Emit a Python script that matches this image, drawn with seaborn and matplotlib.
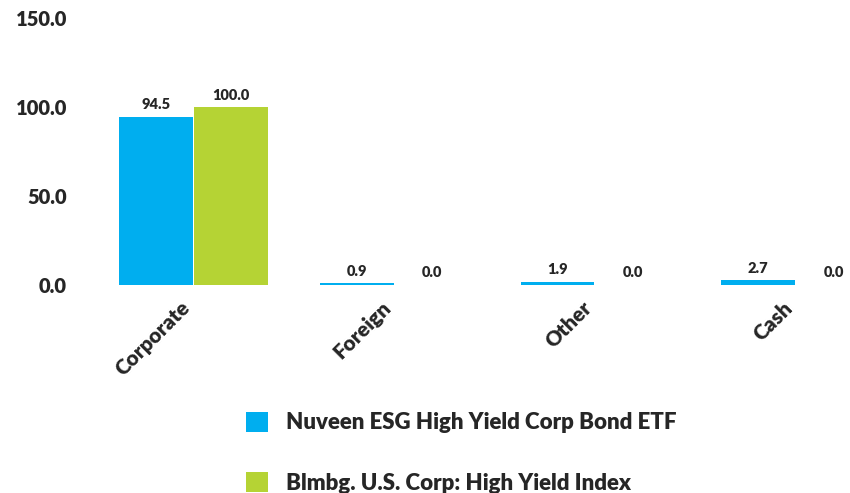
import matplotlib
matplotlib.use("Agg")
import matplotlib.pyplot as plt
import matplotlib.transforms as mtransforms
import seaborn as sns
import pandas as pd
from matplotlib.ticker import FormatStrFormatter

# values
categories = ["Corporate", "Foreign", "Other", "Cash"]
fund_values = [94.5, 0.9, 1.9, 2.7]
index_values = [100.0, 0.0, 0.0, 0.0]
series_names = ["Nuveen ESG High Yield Corp Bond ETF",
                "Blmbg. U.S. Corp: High Yield Index"]
colors = ["#00AEEF", "#B5D334"]
y_ticks = [0, 50, 100, 150]

df = pd.DataFrame({
    "category": categories * 2,
    "value": fund_values + index_values,
    "series": [series_names[0]] * 4 + [series_names[1]] * 4,
})

sns.set_style("white")
plt.rcParams["font.family"] = ["Lato", "DejaVu Sans"]
W = "heavy"

fig = plt.figure(figsize=(8.5, 4.93), dpi=100)
ax = fig.add_axes([0.105, 0.422, 0.895, 0.541])

sns.barplot(data=df, x="category", y="value", hue="series",
            palette=colors, saturation=1, width=0.75, gap=0.02, ax=ax,
            edgecolor="none", legend=True)

for cont in ax.containers:
    ax.bar_label(cont, fmt="%.1f", padding=4, fontsize=10.5, fontweight=W)

ax.set_ylim(0, 150)
ax.set_yticks(y_ticks)
ax.yaxis.set_major_formatter(FormatStrFormatter("%.1f"))
ax.set_xlim(-0.52, 3.27)
ax.set_xlabel("")
ax.set_ylabel("")
ax.tick_params(axis="y", labelsize=14.5, length=0, pad=16)
ax.tick_params(axis="x", labelsize=15, length=0, pad=14)
shift = mtransforms.ScaledTranslation(-5 / 72, 0, fig.dpi_scale_trans)
for lbl in ax.get_xticklabels():
    lbl.set_rotation(45)
    lbl.set_ha("right")
    lbl.set_va("center")
    lbl.set_rotation_mode("anchor")
    lbl.set_transform(lbl.get_transform() + shift)
for lbl in ax.get_yticklabels() + ax.get_xticklabels():
    lbl.set_fontweight(W)
sns.despine(ax=ax, left=True, bottom=True)

handles, labels = ax.get_legend_handles_labels()
ax.get_legend().remove()
fig.legend(handles, labels, loc="upper left", bbox_to_anchor=(0.279, 0.183),
           frameon=False, handlelength=1.0, handleheight=1.0,
           handletextpad=0.8, labelspacing=1.75, borderaxespad=0,
           prop={"weight": W, "size": 16})

fig.savefig("out.png", dpi=100)
